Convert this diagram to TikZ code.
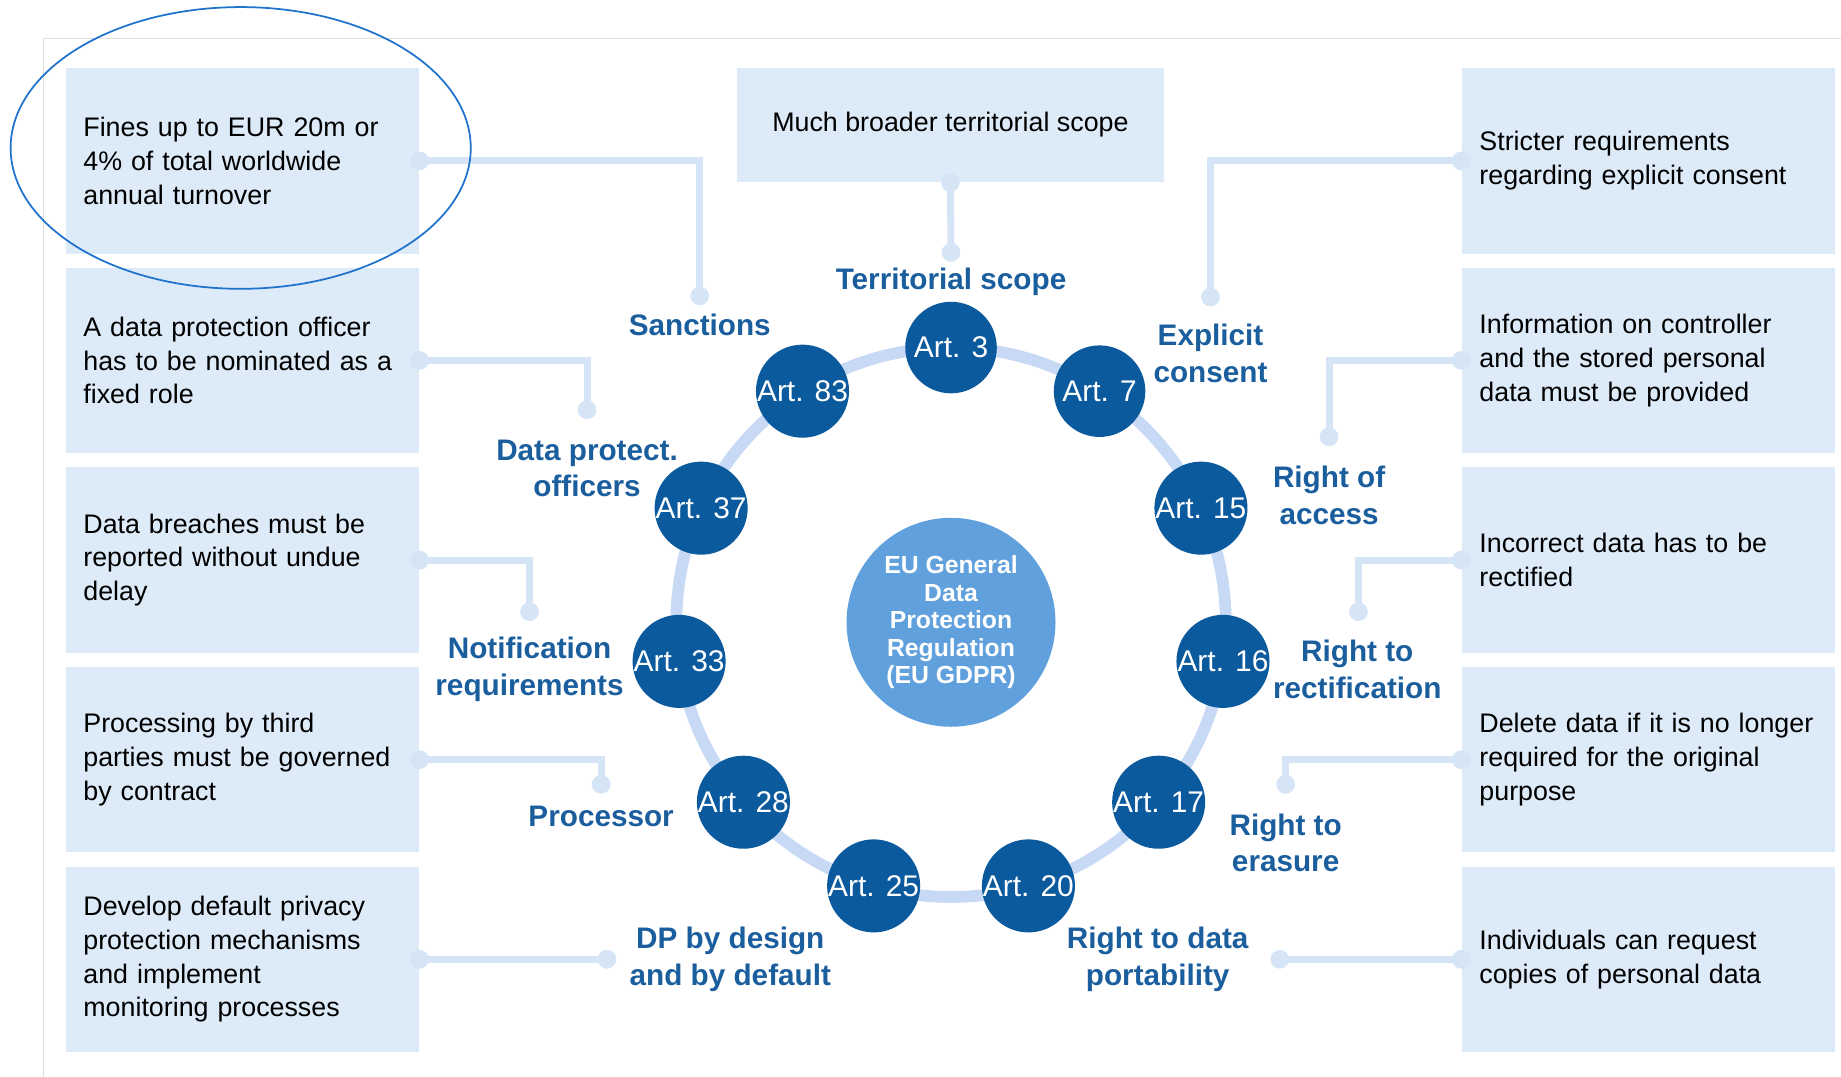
\documentclass[tikz,border=0pt]{standalone}
\usepackage{fontspec}
\setmainfont{Liberation Sans}
\definecolor{boxblue}{HTML}{DDEAF8}
\definecolor{linkblue}{HTML}{D6E5F6}
\definecolor{ringblue}{HTML}{C7D9F4}
\definecolor{artblue}{HTML}{0B5A9E}
\definecolor{hubblue}{HTML}{5FA0DD}
\definecolor{labelblue}{HTML}{1B5E9E}
\definecolor{markblue}{HTML}{1F73CC}
\tikzset{
  infobox/.style={fill=boxblue, minimum height=3.16cm, inner xsep=0.3cm, align=left, font=\fontsize{13}{16.3}\selectfont},
  leftbox/.style={infobox, text width=5.42cm},
  rightbox/.style={infobox, text width=5.76cm},
  artnode/.style={circle, fill=artblue, minimum size=1.56cm, inner sep=0pt, text=white, font=\fontsize{14.5}{17}\selectfont},
  topic/.style={text=labelblue, align=center, font=\fontsize{14.4}{17.6}\selectfont\bfseries},
  link/.style={linkblue, line width=3.4pt},
  linkdot/.style={fill=linkblue}
}
\begin{document}
\begin{tikzpicture}[x=0.02cm, y=-0.02cm]
\useasboundingbox (0,0) rectangle (1568,917);
\draw[gray!25, line width=0.6pt] (37,917) -- (37,33) -- (1568,33);
\node[leftbox] (fines) at (206.5,137) {Fines up to EUR 20m or\\4\% of total worldwide\\annual turnover};
\node[leftbox] (officer) at (206.5,307) {A data protection officer\\has to be nominated as a\\fixed role};
\node[leftbox] (breach) at (206.5,477) {Data breaches must be\\reported without undue\\delay};
\node[leftbox] (thirdp) at (206.5,647) {Processing by third\\parties must be governed\\by contract};
\node[leftbox] (privacy) at (206.5,817) {Develop default privacy\\protection mechanisms\\and implement\\monitoring processes};
\node[infobox, minimum width=7.26cm, minimum height=1.94cm, align=center] (scope) at (809.5,106.5) {Much broader territorial scope};
\node[rightbox] (consent) at (1404,137) {Stricter requirements\\regarding explicit consent};
\node[rightbox] (info) at (1404,307) {Information on controller\\and the stored personal\\data must be provided};
\node[rightbox] (incorrect) at (1404,477) {Incorrect data has to be\\rectified};
\node[rightbox] (delete) at (1404,647) {Delete data if it is no longer\\required for the original\\purpose};
\node[rightbox] (copies) at (1404,817) {Individuals can request\\copies of personal data};
\coordinate (dsanc) at (596,252);
\coordinate (dofficer) at (500,349);
\coordinate (dnotif) at (451,521);
\coordinate (dproc) at (512,668);
\coordinate (ddesign) at (517,817);
\coordinate (dterr) at (810,215);
\coordinate (dexpl) at (1031,253);
\coordinate (daccess) at (1132,372);
\coordinate (drect) at (1157,521);
\coordinate (derase) at (1095,668);
\coordinate (dport) at (1090,817);
\foreach \b/\d in {fines/dsanc, officer/dofficer, breach/dnotif, thirdp/dproc, privacy/ddesign} {
  \draw[link] (\b.east) -| (\d);
  \fill[linkdot] (\b.east) circle[radius=0.16cm] (\d) circle[radius=0.16cm];
}
\foreach \b/\d in {consent/dexpl, info/daccess, incorrect/drect, delete/derase, copies/dport} {
  \draw[link] (\b.west) -| (\d);
  \fill[linkdot] (\b.west) circle[radius=0.16cm] (\d) circle[radius=0.16cm];
}
\draw[link] (scope.south) -- (dterr);
\fill[linkdot] (scope.south) circle[radius=0.16cm] (dterr) circle[radius=0.16cm];
\node[circle, fill=hubblue, minimum size=3.56cm, inner sep=0pt, text=white, align=center, font=\fontsize{12}{13.3}\selectfont\bfseries] (gdpr) at (810,530) {EU General\\Data\\Protection\\Regulation\\(EU GDPR)};
\draw[ringblue, line width=5.7pt] (gdpr.center) circle[radius=4.68cm];
\foreach \n [count=\i from 0] in {3,7,15,16,17,20,25,28,33,37,83}
  \node[artnode] (art\n) at ({810+234*cos(90-\i*360/11)},{530-234*sin(90-\i*360/11)}) {Art. \n};
\node[topic] (lterr) at (810,240) {Territorial scope};
\node[topic] (lsanc) at (596,277) {Sanctions};
\node[topic] (lexpl) at (1031,301) {Explicit\\consent};
\node[topic] (lofficer) at (500,399) {Data protect.\\officers};
\node[topic] (laccess) at (1132,422) {Right of\\access};
\node[topic] (lnotif) at (451,570) {Notification\\requirements};
\node[topic] (lrect) at (1156,570) {Right to\\rectification};
\node[topic] (lproc) at (512,695) {Processor};
\node[topic] (lerase) at (1095,718) {Right to\\erasure};
\node[topic] (ldesign) at (622,817) {DP by design\\and by default};
\node[topic] (lport) at (986,817) {Right to data\\portability};
\draw[markblue, line width=0.85pt] (205,126) ellipse[x radius=3.92cm, y radius=2.4cm];
\end{tikzpicture}
\end{document}
